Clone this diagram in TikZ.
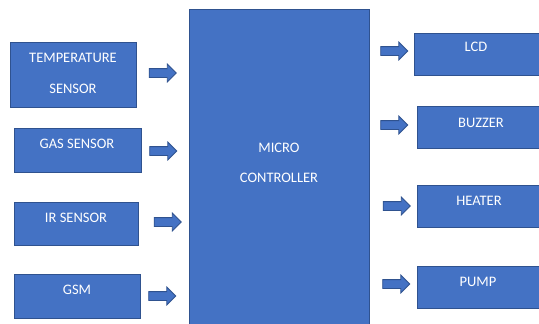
\documentclass[tikz,border=0pt]{standalone}
\usepackage{fontspec}
\setmainfont{Carlito}
\usetikzlibrary{shapes.arrows}
\definecolor{blockfill}{HTML}{4472C4}
\definecolor{blockline}{HTML}{2F528F}
\tikzset{
  block/.style={draw=blockline, line width=0.9pt, fill=blockfill, anchor=north west, inner sep=0pt},
  txt/.style={text=white, font=\fontsize{14.5}{17}\selectfont, anchor=base, inner sep=0pt},
  flow/.style={single arrow, draw=blockline, line width=0.8pt, fill=blockfill,
    minimum height=27pt, text height=4pt, text depth=4pt, text width=0pt,
    single arrow head extend=4.5pt, single arrow tip angle=90, inner sep=0pt}
}
\begin{document}
\begin{tikzpicture}[x=1pt, y=-1pt]
\clip (0,0) rectangle (539,324);
\useasboundingbox (0,0) rectangle (539,324);
\fill[white] (0,0) rectangle (539,324);

% controller
\node[block, minimum width=180pt, minimum height=330pt] (mcu) at (189,9) {};
\node[txt] at (279,152) {MICRO};
\node[txt] at (279,182) {CONTROLLER};

% inputs
\node[block, minimum width=126pt, minimum height=65pt] (temp) at (10,42) {};
\node[txt] at (73,62) {TEMPERATURE};
\node[txt] at (73,93) {SENSOR};
\node[block, minimum width=127pt, minimum height=44pt] (gas) at (14,128) {};
\node[txt] at (77,148) {GAS SENSOR};
\node[block, minimum width=124pt, minimum height=43pt] (ir) at (14,202) {};
\node[txt] at (76,222) {IR SENSOR};
\node[block, minimum width=126pt, minimum height=44pt] (gsm) at (14,274) {};
\node[txt] at (77,294) {GSM};

% outputs
\node[block, minimum width=140pt, minimum height=42pt] (lcd) at (414,33) {};
\node[txt] at (476,52) {LCD};
\node[block, minimum width=140pt, minimum height=42pt] (buzzer) at (417,106) {};
\node[txt] at (481,127) {BUZZER};
\node[block, minimum width=140pt, minimum height=42pt] (heater) at (417,185) {};
\node[txt] at (479,205) {HEATER};
\node[block, minimum width=140pt, minimum height=42pt] (pump) at (417,266) {};
\node[txt] at (478,286) {PUMP};

% flow arrows
\node[flow] (a1) at (160.5,73) {};
\node[flow] (a2) at (161,151) {};
\node[flow] (a3) at (165.5,222) {};
\node[flow] (a4) at (160,296) {};
\node[flow] (b1) at (392,51) {};
\node[flow] (b2) at (392,125) {};
\node[flow] (b3) at (394.5,206) {};
\node[flow] (b4) at (394,284) {};
\end{tikzpicture}
\end{document}
